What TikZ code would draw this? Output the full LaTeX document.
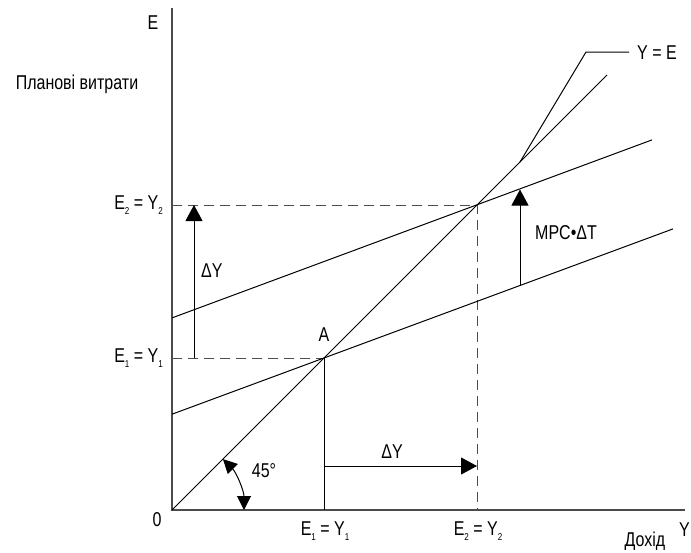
\documentclass[tikz,border=0pt]{standalone}
\usepackage{fontspec}
\setmainfont{Liberation Sans}[FakeStretch=0.8]
\usetikzlibrary{arrows.meta,calc}
\newcommand{\lidx}[1]{\raisebox{-0.45ex}{\fontsize{10}{10}\selectfont #1}}
\begin{document}
\begin{tikzpicture}[x=1pt,y=-1pt,
  lbl/.style={font=\fontsize{20}{22}\selectfont, inner sep=0pt, text=black},
  axis/.style={draw=black!70, line width=1.4pt},
  curve/.style={draw=black, line width=1pt},
  guide/.style={draw=black!70, line width=1pt, dash pattern=on 10pt off 6pt},
  bigarrow/.style={draw=black, line width=1pt, -{Triangle[length=16pt,width=17pt]}},
  arcarrow/.style={draw=black, line width=1pt, {Triangle[length=14pt,width=14pt]}-{Triangle[length=14pt,width=14pt]}}
]
\useasboundingbox (0,0) rectangle (691,552);
% key points
\coordinate (O) at (172,510);
\coordinate (Etop) at (172,8);
\coordinate (Yend) at (685,510);
\coordinate (A) at (324,358);
\coordinate (B) at (477,205);
\coordinate (Dend) at (607,75);
\coordinate (Lstart) at (172,414.2);
\coordinate (Lend) at (673,228.9);
\coordinate (Ustart) at (172,317.9);
\coordinate (Uend) at (652,139.9);
\coordinate (Aaxis) at (324,510);
\coordinate (Baxis) at (477,510);
\coordinate (A0) at (172,358);
\coordinate (B0) at (172,205);
\coordinate (Lk1) at (520,162);
\coordinate (Lk2) at (586,52);
\coordinate (Lk3) at (629,52);
\coordinate (M1) at (520,285.5);
\coordinate (M2) at (520,189.5);
\coordinate (D1) at (194,358);
\coordinate (D2) at (194,205);
\coordinate (H1) at (324,466);
\coordinate (H2) at (477,466);
% axes
\draw[axis] (Etop) -- (O) -- (Yend);
% guides
\draw[guide] (B0) -- (B) -- (Baxis);
\draw[guide] (A0) -- (A);
\draw[curve] (A) -- (Aaxis);
% lines
\draw[curve] (O) -- (Dend);
\draw[curve] (Lstart) -- (Lend);
\draw[curve] (Ustart) -- (Uend);
\draw[curve] (Lk1) -- (Lk2) -- (Lk3);
% arrows
\draw[bigarrow] (M1) -- (M2);
\draw[bigarrow] (D1) -- (D2);
\draw[bigarrow] (H1) -- (H2);
\draw[arcarrow] (O) ++(-45:72) arc[start angle=-45, end angle=0, radius=72];
% labels
\node[lbl] (lE) at (153,23) {E};
\node[lbl] (lPl) at (77,84) {Планові витрати};
\node[lbl, anchor=east] (lE2) at (163,205) {E\lidx{2} = Y\lidx{2}};
\node[lbl, anchor=east] (lE1) at (163,358) {E\lidx{1} = Y\lidx{1}};
\node[lbl] (l0) at (157,520) {0};
\node[lbl] (lA) at (324,335) {A};
\node[lbl] (lX1) at (325,531) {E\lidx{1} = Y\lidx{1}};
\node[lbl] (lX2) at (478,531) {E\lidx{2} = Y\lidx{2}};
\node[lbl] (lDoh) at (645,541) {Дохід};
\node[lbl, anchor=east] (lY) at (690,530) {Y};
\node[lbl, anchor=west] (lYE) at (637,53) {Y = E};
\node[lbl, anchor=west] (lMPC) at (535,233) {MPC•ΔT};
\node[lbl, anchor=west] (lDY1) at (201,271) {ΔY};
\node[lbl] (lDY2) at (392,452) {ΔY};
\node[lbl] (l45) at (264,471) {45°};
\end{tikzpicture}
\end{document}
